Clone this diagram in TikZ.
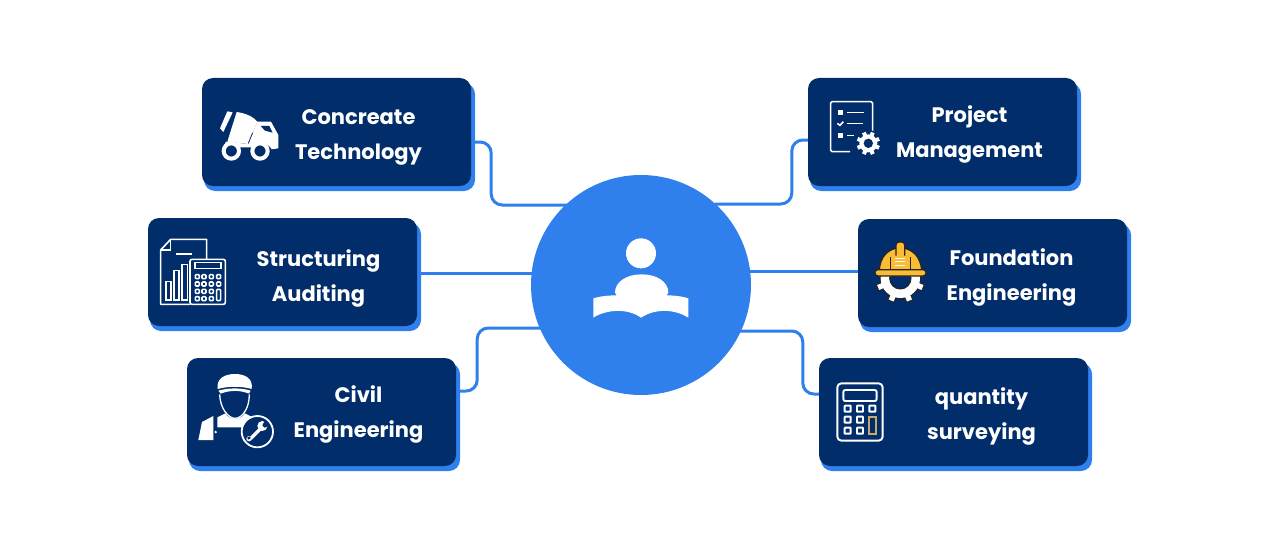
\documentclass[tikz,border=0pt]{standalone}
\usepackage{fontspec}
\setmainfont{Poppins}[BoldFont={Poppins Bold}]
\usetikzlibrary{calc,backgrounds}
\definecolor{navy}{HTML}{012D6B}
\definecolor{brand}{HTML}{2F80ED}
\definecolor{helmet}{HTML}{F9BC35}
\definecolor{hdark}{HTML}{2A2320}
\definecolor{gold}{HTML}{C9A968}
\newcommand{\twolines}[2]{\strut #1\\\strut #2}
% cog: centre x,y, body radius, half tooth width, tip radius, colour
\newcommand{\cogfill}[6]{%
  \fill[#6] (#1,#2) circle[radius=#3];
  \foreach \a in {0,45,...,315}{%
    \fill[#6,rotate around={\a+22.5:(#1,#2)}] ({#1-#4},#2) rectangle ({#1+#4},{#2-#5});
  }}
\tikzset{
  x=1pt,y=-1pt,
  card/.style={fill=navy,rounded corners=11pt,minimum width=269pt,minimum height=108pt,inner sep=0pt},
  cardback/.style={fill=brand,rounded corners=11pt,minimum width=271pt,minimum height=108pt,inner sep=0pt},
  label/.style={text=white,align=center,inner sep=0pt,font=\fontsize{21}{35}\selectfont\bfseries},
  link/.style={draw=brand,line width=3pt,rounded corners=11pt},
  ln/.style={draw=white,line width=1.6pt},
}
\begin{document}
\begin{tikzpicture}
\path[use as bounding box] (0,0) rectangle (1280,551);

\node[cardback] (s1) at (339.5,137) {};
\node[cardback] (s2) at (285.5,277) {};
\node[cardback] (s3) at (324.5,417) {};
\node[cardback] (s4) at (945.5,137) {};
\node[cardback] (s5) at (995.5,278) {};
\node[cardback] (s6) at (956.5,417) {};
\node[card] (c1) at (336.5,132) {};
\node[card] (c2) at (282.5,272) {};
\node[card] (c3) at (321.5,412) {};
\node[card] (c4) at (942.5,132) {};
\node[card] (c5) at (992.5,273) {};
\node[card] (c6) at (953.5,412) {};
\node[circle,fill=brand,minimum size=220pt,inner sep=0pt] (hub) at (641,285) {};

\begin{scope}[on background layer]
\fill[white] (0,0) rectangle (1280,551);
\draw[link] ($(c1.east)+(0,10)$) -- ++(20,0) -- ++(0,63) -- ($(hub)+(-71,-80)$);
\draw[link] ($(c2.east)+(0,1)$) -- ($(hub)+(-100,-12)$);
\draw[link] ($(c3.east)+(0,-21)$) -- ++(21,0) -- ++(0,-63) -- ($(hub)+(-96,43)$);
\draw[link] ($(c4.west)+(0,8)$) -- ++(-16,0) -- ++(0,64) -- ($(hub)+(74,-81)$);
\draw[link] ($(c5.west)+(0,-2)$) -- ($(hub)+(100,-14)$);
\draw[link] ($(c6.west)+(0,-18)$) -- ++(-16,0) -- ++(0,-63) -- ($(hub)+(99,46)$);
\end{scope}

\node[label] (t1) at (358.5,134.5) {\twolines{Concreate}{Technology}};
\node[label] (t2) at (318.5,276.5) {\twolines{Structuring}{Auditing}};
\node[label] (t3) at (358.5,412.5) {\twolines{Civil}{Engineering}};
\node[label] (t4) at (969.5,132.5) {\twolines{Project}{Management}};
\node[label] (t5) at (1011.5,275.5) {\twolines{Foundation}{Engineering}};
\node[label] (t6) at (981.5,414.5) {\twolines{quantity}{surveying}};

% hub icon
\begin{scope}[shift={(570,220)},scale=1/3]
\fill[white] (213,100) circle[radius=45];
\fill[white] (135,218) .. controls (135,185) and (170,163) .. (215,163)
  .. controls (260,163) and (295,185) .. (295,218) -- (290,226)
  .. controls (315,226) and (340,230) .. (355,235) -- (355,293)
  .. controls (320,270) and (260,262) .. (213,293)
  .. controls (170,262) and (105,270) .. (70,293) -- (70,235)
  .. controls (90,229) and (115,226) .. (140,226) -- cycle;
\end{scope}

% concrete truck
\begin{scope}[shift={(140,70)},scale=1/3]
\fill[white] (262,124) -- (278,127) -- (250,186) -- (240,175) -- cycle;
\fill[white] (290,126) .. controls (318,130) and (340,140) .. (352,155)
  -- (325,222) -- (262,215) -- cycle;
\fill[white] (352,155) -- (393,155) -- (415,195) -- (415,235) -- (395,238)
  .. controls (385,215) and (345,215) .. (333,232) -- (300,232)
  .. controls (290,215) and (260,212) .. (250,232) -- (258,215) -- (325,222) -- cycle;
\fill[navy] (362,168) -- (388,168) -- (398,188) -- (375,182) -- cycle;
\draw[navy,line width=.8pt] (338,188) -- (325,220);
\draw[white,line width=4pt,fill=navy] (274,243) circle[radius=23];
\draw[white,line width=4pt,fill=navy] (360,243) circle[radius=23];
\end{scope}

% document and calculator
\begin{scope}[shift={(140,210)},scale=1/3]
\draw[ln,line join=round] (200,148) -- (200,88) -- (92,88) -- (62,120) -- (62,283) -- (150,283);
\draw[ln] (92,88) -- (92,120) -- (62,120);
\draw[ln] (108,132) -- (155,132);
\draw[ln] (78,215) rectangle (93,270);
\draw[ln] (102,182) rectangle (117,270);
\draw[ln] (126,163) rectangle (142,270);
\draw[ln,rounded corners=2pt] (150,148) rectangle (256,283);
\draw[ln] (165,158) rectangle (243,176);
\foreach \y in {200,222,244,266}{\foreach \x in {172,192,214}{
  \draw[ln,rounded corners=1pt] (\x-6,\y-6) rectangle (\x+6,\y+6);}}
\foreach \y in {200,222}{\draw[ln,rounded corners=1pt] (230,\y-6) rectangle (242,\y+6);}
\draw[ln,rounded corners=1pt] (230,238) rectangle (242,272);
\end{scope}

% worker with wrench
\begin{scope}[shift={(180,350)},scale=1/3]
\fill[white] (113,117) .. controls (108,85) and (135,72) .. (165,72)
  .. controls (195,72) and (220,85) .. (215,117) .. controls (185,108) and (145,108) .. (113,117) -- cycle;
\fill[white] (115,122) .. controls (145,113) and (185,113) .. (212,122) -- (207,131)
  .. controls (180,120) and (150,120) .. (122,131) -- cycle;
\draw[white,line width=1.3pt] (119,133) .. controls (120,175) and (145,205) .. (165,205)
  .. controls (187,205) and (208,175) .. (208,133);
\fill[white] (55,270) -- (66,216) -- (100,198) -- (100,270) -- cycle;
\fill[white] (107,246) circle[radius=4];
\fill[white] (112,202) -- (136,190) .. controls (145,210) and (185,212) .. (194,190)
  -- (225,205) -- (190,232) -- (112,232) -- cycle;
\draw[white,line width=1.8pt,fill=navy] (232,245) circle[radius=47];
\draw[white,line width=3.4pt] (212,266) -- (250,228);
\fill[white] (207,266) circle[radius=8];
\fill[white] (247,228) circle[radius=15];
\fill[navy] (254,212) -- (268,226) -- (254,233) -- (247,226) -- cycle;
\fill[navy] (204,269) -- (212,265) -- (210,259) -- (202,262) -- cycle;
\end{scope}

% checklist and gear
\begin{scope}[shift={(800,70)},scale=1/3]
\draw[ln,rounded corners=1.5pt] (150,245) -- (92,245) -- (92,95) -- (218,95) -- (218,190);
\fill[white] (113,121) rectangle (130,135);
\draw[ln] (142,127) -- (192,127);
\draw[ln] (112,160) -- (120,166) -- (130,155);
\draw[ln] (140,160) -- (190,160);
\fill[white] (113,190) rectangle (130,205);
\draw[ln] (142,196) -- (163,196);
\fill[navy] (205,220) circle[radius=40];
\cogfill{205}{220}{27}{6}{35}{white}
\fill[navy] (205,220) circle[radius=14];
\end{scope}

% helmet and gear
\begin{scope}[shift={(850,215)},scale=1/3]
\begin{scope}
\clip (60,180) rectangle (240,280);
\cogfill{151}{190}{62}{11}{75}{hdark}
\cogfill{151}{190}{59}{8}{72}{white}
\draw[hdark,line width=1pt,fill=navy] (151,190) circle[radius=32];
\end{scope}
\draw[hdark,line width=1.2pt,fill=helmet] (88,166) .. controls (90,125) and (115,100) .. (150,98)
  .. controls (187,100) and (212,125) .. (215,166) -- cycle;
\draw[hdark,line width=1.2pt,fill=helmet,rounded corners=3pt] (138,122) -- (138,81) -- (164,81) -- (164,122);
\draw[hdark,line width=1pt] (120,125) -- (120,164);
\draw[hdark,line width=1pt] (182,125) -- (182,164);
\draw[hdark,line width=1.2pt,fill=helmet,rounded corners=3pt] (75,164) rectangle (228,183);
\foreach \y in {130,140,150}{\draw[white!90!helmet,line width=1pt] (136,\y) -- (166,\y);}
\end{scope}

% calculator
\begin{scope}[shift={(815,355)},scale=1/3]
\draw[white,line width=1.9pt,rounded corners=4pt] (67,85) rectangle (203,257);
\draw[white,line width=1.9pt,rounded corners=2pt] (85,105) rectangle (185,138);
\foreach \y in {161,194,227}{\foreach \x in {98,135}{
  \draw[white,line width=1.9pt,rounded corners=.5pt] (\x-9,\y-9) rectangle (\x+9,\y+9);}}
\draw[white,line width=1.9pt,rounded corners=.5pt] (163,152) rectangle (181,170);
\draw[gold,line width=1.9pt] (162,185) rectangle (182,238);
\end{scope}
\end{tikzpicture}
\end{document}
